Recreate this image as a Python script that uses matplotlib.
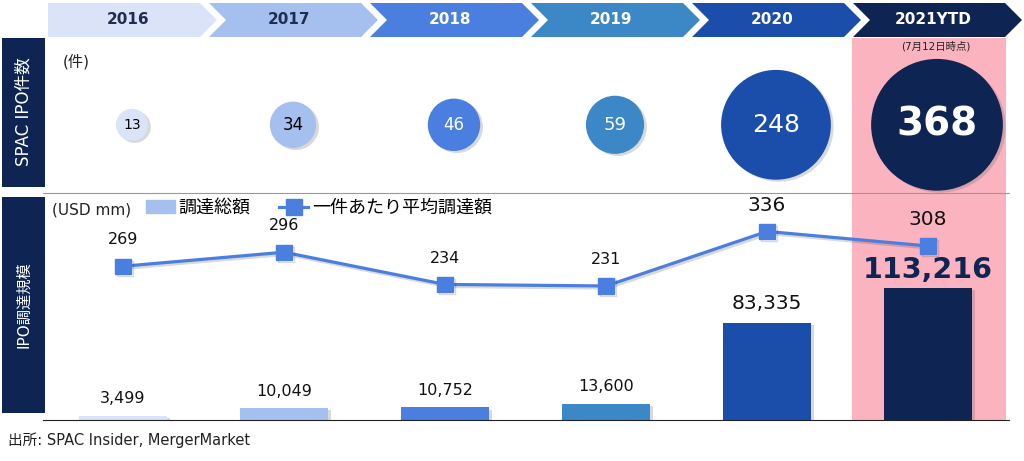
import matplotlib
matplotlib.use('Agg')
import matplotlib.pyplot as plt
import matplotlib.patches as patches
import matplotlib.patheffects as pe
from matplotlib.lines import Line2D
import numpy as np

plt.rcParams['font.family'] = ['DejaVu Sans', 'Noto Sans CJK JP']

# data
years = ['2016', '2017', '2018', '2019', '2020', '2021YTD']
ipo_counts = [13, 34, 46, 59, 248, 368]
total_raised = [3499, 10049, 10752, 13600, 83335, 113216]
avg_raised = [269, 296, 234, 231, 336, 308]

year_colors = ['#DAE3F7', '#A5C0EE', '#4A7FE0', '#3C87C5', '#1B4EAA', '#0E2553']
navy = '#0E2553'
pink = '#FBB4BF'
line_color = '#4A7FE0'

W, H = 1024, 461
fig = plt.figure(figsize=(W / 100, H / 100), dpi=100)

# background layer in pixel coords
bg = fig.add_axes([0, 0, 1, 1], zorder=0)
bg.set_xlim(0, W)
bg.set_ylim(H, 0)
bg.axis('off')

bg.add_patch(patches.Rectangle((852, 38), 154, 382, color=pink, lw=0))
bg.add_patch(patches.Rectangle((2, 38), 43, 149, color=navy, lw=0))
bg.add_patch(patches.Rectangle((2, 197), 43, 216, color=navy, lw=0))
bg.text(23.5, 112, 'SPAC IPO件数', rotation=90, color='white', fontsize=12,
        ha='center', va='center')
bg.text(23.5, 305, 'IPO調達規模', rotation=90, color='white', fontsize=11,
        ha='center', va='center')

# chevron header
d = 17
for i, (yr, c) in enumerate(zip(years, year_colors)):
    L = 48 + 161 * i
    pts = [(L, 3), (L + 152, 3), (L + 152 + d, 20), (L + 152, 37), (L, 37)]
    if i > 0:
        pts.append((L + d, 20))
    bg.add_patch(patches.Polygon(pts, closed=True, color=c, lw=0))
    tc = '#1F2D52' if i < 2 else 'white'
    bg.text(L + 80, 20, yr, color=tc, fontsize=11, fontweight='bold',
            ha='center', va='center')

bg.text(936, 46, '(7月12日時点)', fontsize=7.5, ha='center', va='center', color='#222222')
bg.text(63, 62, '(件)', fontsize=11, ha='left', va='center', color='#222222')
bg.text(52, 210, '(USD mm)', fontsize=11, ha='left', va='center', color='#222222')
bg.text(8, 440, '出所: SPAC Insider, MergerMarket', fontsize=10.5, ha='left',
        va='center', color='#222222')

x = np.arange(len(years))
shadow = dict(shadow_rgbFace='#555555', alpha=0.22)

# top panel: bubbles
ax_top = fig.add_axes([51.5 / W, (H - 193) / H, 966 / W, 155 / H], zorder=2)
ax_top.set_facecolor('none')
ax_top.set_xlim(-0.5, 5.5)
ax_top.set_ylim(0, 1)
ax_top.axis('off')
counts = np.array(ipo_counts)
r_px = 4.5 + 3.2 * np.sqrt(counts)
sizes = (2 * r_px * 0.72) ** 2
yb = np.full(len(years), 0.44)
ax_top.scatter(x, yb, s=sizes, c=year_colors, lw=0, clip_on=False,
               path_effects=[pe.SimplePatchShadow(offset=(2, -1.5), **shadow),
                             pe.Normal()])
bubble_fs = [10, 12, 12, 13, 18, 28]
for i, v in enumerate(ipo_counts):
    tc = 'black' if i < 2 else 'white'
    fw = 'bold' if i == 5 else 'normal'
    ax_top.text(x[i], yb[i], str(v), color=tc, fontsize=bubble_fs[i],
                fontweight=fw, ha='center', va='center')

# bottom panel: bars + line
ax = fig.add_axes([42.5 / W, (H - 420) / H, 966 / W, 227 / H], zorder=2)
ax.set_facecolor('none')
ax.set_xlim(-0.5, 5.5)
ax.set_ylim(0, 195000)
bars = ax.bar(x, total_raised, width=0.55, color=year_colors, lw=0)
for b in bars:
    b.set_path_effects([pe.SimplePatchShadow(offset=(2, -1.5), **shadow), pe.Normal()])
for s in ['left', 'right']:
    ax.spines[s].set_visible(False)
ax.spines['bottom'].set_color('#222222')
ax.spines['top'].set_color('#999999')
ax.set_xticks([])
ax.set_yticks([])

bar_fs = [11.5, 11.5, 11.5, 11.5, 14.5, 20.5]
for i, v in enumerate(total_raised):
    big = i == 5
    ax.annotate(f'{v:,}', (x[i], v), xytext=(0, 3 if big else 7),
                textcoords='offset points', ha='center', va='bottom',
                fontsize=bar_fs[i], fontweight='bold' if big else 'normal',
                color=navy if big else '#111111')

ax2 = ax.twinx()
ax2.set_ylim(-27, 410)
ax2.plot(x, avg_raised, color=line_color, lw=2.3, marker='s', markersize=11,
         path_effects=[pe.SimpleLineShadow(offset=(1.5, -1.5), alpha=0.15), pe.Normal()])
for s in ax2.spines.values():
    s.set_visible(False)
ax2.set_yticks([])
line_fs = [11.5, 11.5, 11.5, 11.5, 14.5, 14.5]
for i, v in enumerate(avg_raised):
    ax2.annotate(str(v), (x[i], v), xytext=(0, 19), textcoords='offset points',
                 ha='center', va='center', fontsize=line_fs[i], color='#111111')

handles = [patches.Patch(color='#A5C0EE', label='調達総額'),
           Line2D([], [], color=line_color, lw=2.3, marker='s', markersize=11,
                  label='一件あたり平均調達額')]
fig.legend(handles=handles, loc='upper left', bbox_to_anchor=(146 / W, 1 - 199 / H),
           ncol=2, frameon=False, fontsize=13, handlelength=1.6, handletextpad=0.2,
           columnspacing=1.6, borderpad=0, borderaxespad=0)

fig.savefig('out.png', dpi=100)
